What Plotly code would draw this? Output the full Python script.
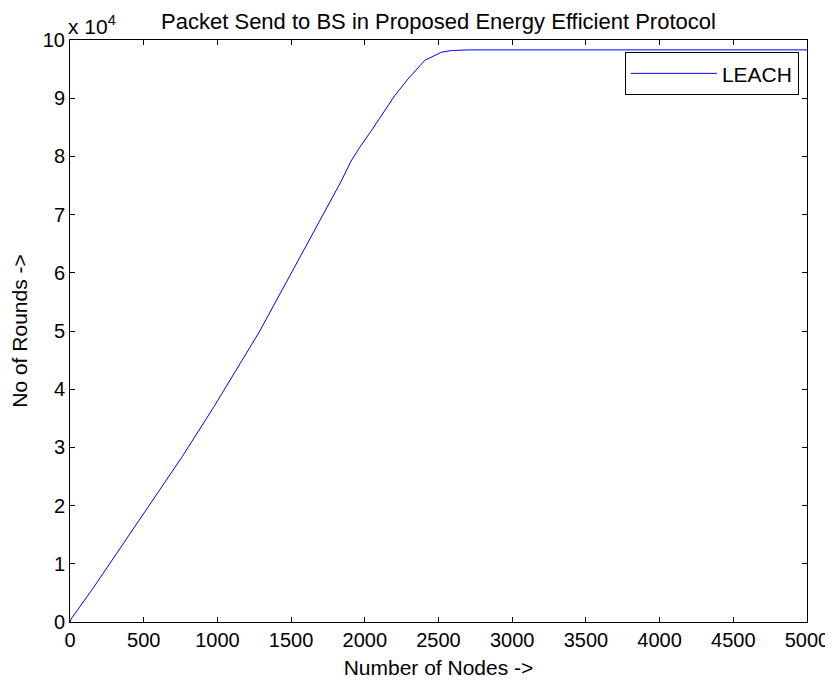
import plotly.graph_objects as go

# Data (x: number of nodes, y: rounds)
nodes = [0, 7, 159, 500, 761, 972, 1090, 1283, 1567, 1839, 1907, 1964, 2044,
         2202, 2293, 2407, 2520, 2589, 2713, 3000, 4000, 5000]
rounds = [0, 500, 5900, 18600, 28400, 36800, 41700, 49800, 63000, 75700, 79200,
          81500, 84400, 90400, 93300, 96500, 97900, 98200, 98300, 98300, 98300, 98300]

x_ticks = [0, 500, 1000, 1500, 2000, 2500, 3000, 3500, 4000, 4500, 5000]
y_ticks = [0, 10000, 20000, 30000, 40000, 50000, 60000, 70000, 80000, 90000, 100000]
y_ticktext = ["0", "1", "2", "3", "4", "5", "6", "7", "8", "9", "10"]

FONT = "Liberation Sans, Arial, sans-serif"

fig = go.Figure()
fig.add_trace(go.Scatter(x=nodes, y=rounds, mode="lines", name="LEACH",
                         line=dict(color="#0000ff", width=1)))

axis_common = dict(showline=True, linecolor="black", linewidth=1, mirror="allticks",
                   ticks="inside", ticklen=5, tickcolor="black", showgrid=False,
                   zeroline=False, automargin=False,
                   tickfont=dict(size=20, color="black", family=FONT))

# The page body adds an 8px offset, so the figure is sized to fit the window.
fig.update_layout(
    width=825, height=676,
    paper_bgcolor="white", plot_bgcolor="white",
    margin=dict(l=62, r=26, t=32, b=62),
    font=dict(family=FONT, size=20, color="black"),
    title=dict(text="Packet Send to BS in Proposed Energy Efficient Protocol",
               x=0.5, xref="paper", xanchor="center", y=1 - 13 / 676, yref="container",
               yanchor="middle", automargin=False,
               font=dict(size=22, color="black", family=FONT)),
    xaxis=dict(range=[0, 5000], tickvals=x_ticks,
               title=dict(text="Number of Nodes ->", standoff=10,
                          font=dict(size=21, color="black", family=FONT)),
               **axis_common),
    yaxis=dict(range=[0, 100000], tickvals=y_ticks, ticktext=y_ticktext,
               title=dict(text="No of Rounds ->", standoff=16,
                          font=dict(size=21, color="black", family=FONT)),
               **axis_common),
    legend=dict(x=0.989, y=0.979, xanchor="right", yanchor="top",
                bordercolor="black", borderwidth=1, bgcolor="white",
                itemwidth=86,
                font=dict(size=21, color="black", family=FONT)),
    showlegend=True,
)

fig.add_annotation(text="x 10<sup>4</sup>", xref="paper", yref="paper",
                   x=0, y=1.0, xanchor="left", yanchor="bottom", showarrow=False,
                   xshift=-4, font=dict(size=21, color="black", family=FONT))

fig.write_html("out.html")
